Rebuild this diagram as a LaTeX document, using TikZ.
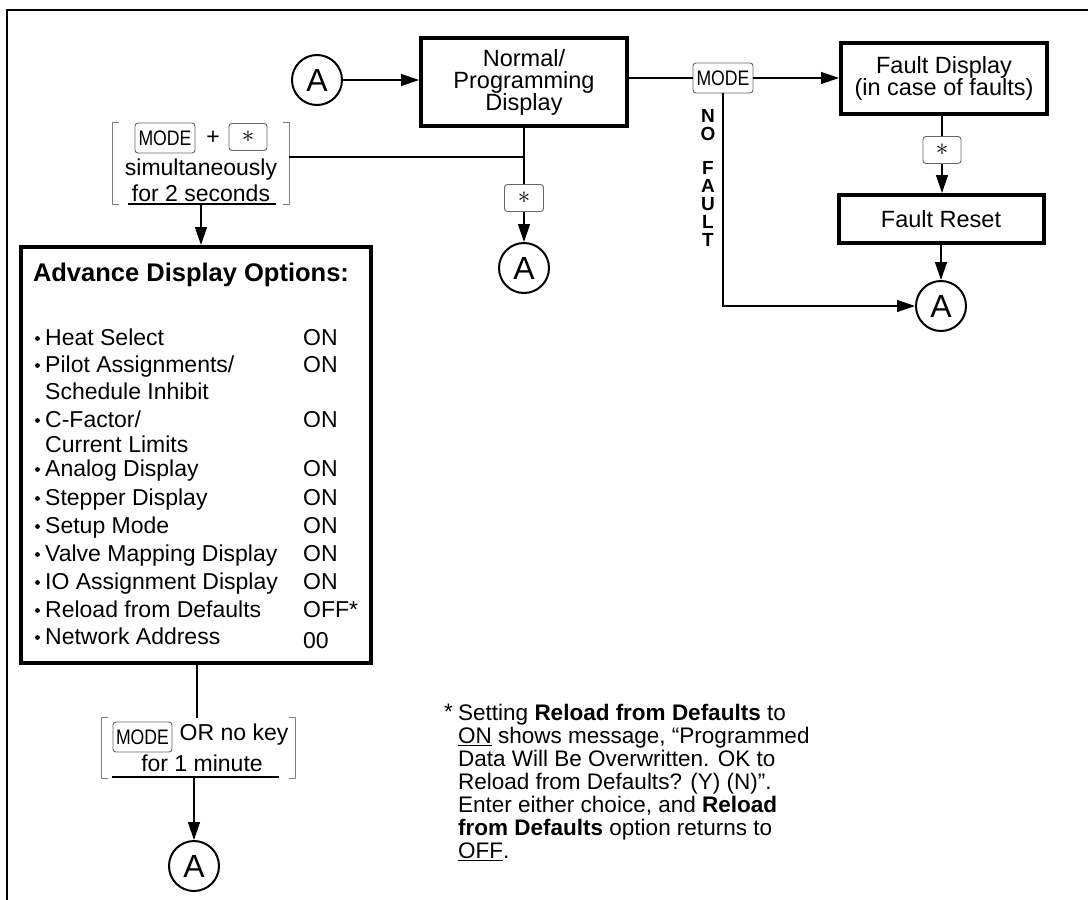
\documentclass[tikz,border=0pt]{standalone}
\usepackage{fontspec}
\setmainfont{Liberation Sans}
\newfontfamily\keyfont[FakeStretch=0.84]{Liberation Sans}
\usetikzlibrary{arrows.meta,calc}
\begin{document}
\begin{tikzpicture}[x=1pt,y=-1pt,
  thinline/.style={line width=1.3pt},
  arr/.style={line width=1.3pt,-{Triangle[length=18pt,width=12pt]}},
  bigbox/.style={draw,line width=4pt,align=center,inner sep=0pt,font=\fontsize{23.5}{22}\selectfont},
  keybox/.style={draw=black!60,line width=0.9pt,rounded corners=3pt,inner sep=0pt,fill=white,font=\keyfont\fontsize{21}{21}\selectfont},
  circA/.style={draw,circle,line width=2pt,minimum size=50pt,inner sep=0pt,font=\fontsize{32}{32}\selectfont},
  body/.style={font=\fontsize{23}{22}\selectfont,inner sep=0pt},
  brk/.style={draw=black!50,line width=1pt},
  grp/.style={inner sep=0pt},
  star/.style={font=\fontsize{24}{24}\selectfont},
]
\useasboundingbox (0,0) rectangle (1088,900);
% partial frame
\draw[thinline] (1088,10) -- (7,10) -- (7,900);

% top row
\node[circA] (a1) at (317,80) {A};
\node[bigbox,minimum width=206pt,minimum height=88pt] (np) at (524,82) {Normal/\\Programming\\Display};
\node[keybox,minimum width=60pt,minimum height=30pt] (k1) at (723,78) {MODE};
\node[bigbox,minimum width=206pt,minimum height=71pt] (fd) at (944,78) {Fault Display\\(in case of faults)};
\node[keybox,minimum width=38pt,minimum height=27pt] (k2) at (942,150) {\fontsize{24}{24}\selectfont$\ast$};
\node[bigbox,minimum width=205pt,minimum height=48pt] (fr) at (941,219) {Fault Reset};
\node[circA] (a2) at (941,306) {A};
\node[keybox,minimum width=39pt,minimum height=27pt] (k3) at (524,198) {\fontsize{24}{24}\selectfont$\ast$};
\node[circA] (a3) at (524,268) {A};
\node[font=\bfseries\fontsize{19}{18}\selectfont,align=center,inner sep=0pt] (nf) at (708,178) {N\\O\\[16pt]F\\A\\U\\L\\T};

\draw[arr] (a1.east) -- (a1.east -| np.west);
\draw[thinline] (k1.west -| np.east) -- (k1.west);
\draw[arr] (k1.east) -- (k1.east -| fd.west);
\draw[thinline] (fd.south -| k2) -- (k2.north);
\draw[arr] (k2.south) -- (k2.south |- fr.north);
\draw[arr] (fr.south) -- (a2.north);
\draw[arr] (k1.south) |- (a2.west);
\draw[thinline] (np.south) -- (k3.north);
\draw[arr] (k3.south) -- (a3.north);

% bracket group 1
\node[grp,minimum width=176pt,minimum height=81pt] (b1) at (201,163.5) {};
\draw[brk] ([xshift=6pt]b1.north west) -- (b1.north west) -- (b1.south west) -- ([xshift=6pt]b1.south west);
\draw[brk] ([xshift=-6pt]b1.north east) -- (b1.north east) -- (b1.south east) -- ([xshift=-6pt]b1.south east);
\node[keybox,minimum width=60pt,minimum height=30pt] (k4) at (165,138) {MODE};
\node[body] (plus) at (213,138) {+};
\node[keybox,minimum width=38pt,minimum height=27pt] (k5) at (248,137) {\fontsize{24}{24}\selectfont$\ast$};
\node[body] (sim) at (201,170) {simultaneously};
\node[body] (two) at (201,193) {for 2 seconds};
\coordinate (u1) at (201,204);
\draw[thinline] ([xshift=-73pt]u1) -- ([xshift=75pt]u1);
\coordinate (j1) at (np.south |- 0,157);
\draw[thinline] (b1.east |- j1) -- (j1);

% advance display options box
\node[draw,line width=4pt,minimum width=350pt,minimum height=416pt,inner sep=0pt] (adv) at (196,455) {};
\draw[arr] (u1) -- (u1 |- adv.north);
\node[font=\bfseries\fontsize{25.5}{25}\selectfont,inner sep=0pt] (title) at (191,275) {Advance Display Options:};

\foreach \i/\t/\y/\b in {1/{Heat Select}/345/1, 2/{Pilot Assignments/}/372/1, 3/{Schedule Inhibit}/399/0,
  4/{C-Factor/}/427/1, 5/{Current Limits}/452/0, 6/{Analog Display}/476/1, 7/{Stepper Display}/505/1,
  8/{Setup Mode}/533/1, 9/{Valve Mapping Display}/561/1, 10/{IO Assignment Display}/589/1,
  11/{Reload from Defaults}/617/1, 12/{Network Address}/644/1}{
  \node[body,anchor=base west] (it\i) at (45,\y) {\t};
  \ifnum\b=1 \fill (37.5,\y-6.5) circle (2.4pt);\fi
}
\foreach \i/\v/\y in {1/ON/345, 2/ON/372, 4/ON/427, 6/ON/476, 7/ON/505, 8/ON/533,
  9/ON/561, 10/ON/589, 11/OFF*/617, 12/00/648}{
  \node[body,anchor=base west] (val\i) at (303,\y) {\v};
}

% bracket group 2
\node[grp,minimum width=193pt,minimum height=60pt] (b2) at (198.5,748) {};
\draw[brk] ([xshift=6pt]b2.north west) -- (b2.north west) -- (b2.south west) -- ([xshift=6pt]b2.south west);
\draw[brk] ([xshift=-6pt]b2.north east) -- (b2.north east) -- (b2.south east) -- ([xshift=-6pt]b2.south east);
\node[keybox,minimum width=59pt,minimum height=30pt] (k6) at (142.5,737) {MODE};
\node[body] (orno) at (234,735) {OR no key};
\node[body] (onemin) at (202,763) {for 1 minute};
\coordinate (u2) at (194,777);
\draw[thinline] (112,777) -- (279,777);
\draw[thinline] (adv.south -| 197,0) -- (b2.north -| 197,0);
\node[circA] (a4) at (194,866) {A};
\draw[arr] (u2) -- (a4.north);

% footnote
\node[anchor=north west,align=left,inner sep=0pt,font=\fontsize{22.5}{23}\selectfont] (fn) at (458,704)
 {Setting \textbf{Reload from Defaults} to\\
  \underline{ON} shows message, “Programmed\\
  Data Will Be Overwritten. OK to\\
  Reload from Defaults? (Y) (N)”.\\
  Enter either choice, and \textbf{Reload}\\
  \textbf{from Defaults} option returns to\\
  \underline{OFF}.};
\node[anchor=north east,inner sep=0pt,font=\fontsize{22.5}{23}\selectfont] (fnstar) at ([xshift=-5pt]fn.north west) {*};
\end{tikzpicture}
\end{document}
